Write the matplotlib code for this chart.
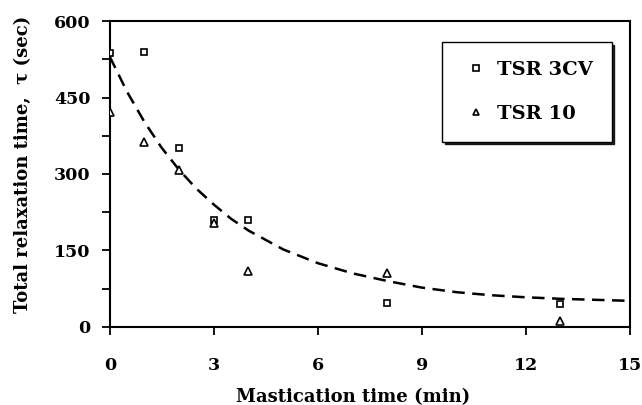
import matplotlib.pyplot as plt
from matplotlib.ticker import MultipleLocator

# data
time_min = [0, 1, 2, 3, 4, 8, 13]
tsr_3cv = [537, 540, 350, 210, 210, 47, 45]
tsr_10 = [422, 362, 308, 203, 110, 105, 12]

# dashed trend curve
fit_x = [0, 0.5, 1, 1.5, 2, 2.5, 3, 3.5, 4, 5, 6, 7, 8, 9, 10, 11, 12, 13, 14, 15]
fit_y = [530, 461, 402, 351, 308, 271, 240, 212, 189, 152, 125, 105, 90, 77, 68, 62, 58, 55, 53, 51]

plt.rcParams["font.family"] = ["DejaVu Serif"]
plt.rcParams["font.weight"] = "bold"

fig = plt.figure(figsize=(6.42, 4.05), dpi=100)
ax = fig.add_axes([0.171, 0.193, 0.81, 0.755])

ax.plot(fit_x, fit_y, color="black", lw=1.8, dashes=(5, 3), zorder=2)
ax.plot(time_min, tsr_3cv, ls="none", marker="s", ms=5, mfc="white",
        mec="black", mew=1.2, label="TSR 3CV", zorder=3)
ax.plot(time_min, tsr_10, ls="none", marker="^", ms=5.5, mfc="white",
        mec="black", mew=1.2, label="TSR 10", zorder=3)

ax.set_xlim(0, 15)
ax.set_ylim(0, 600)
ax.xaxis.set_major_locator(MultipleLocator(3))
ax.yaxis.set_major_locator(MultipleLocator(150))
ax.yaxis.set_minor_locator(MultipleLocator(75))

for s in ax.spines.values():
    s.set_linewidth(1.5)
ax.tick_params(axis="both", which="both", direction="out", width=1.3,
               top=False, right=False, labelsize=12.5)
ax.tick_params(axis="y", which="major", length=6, pad=8)
ax.tick_params(axis="y", which="minor", length=6)
ax.tick_params(axis="x", which="major", length=6, pad=16)

ax.set_xlabel("Mastication time (min)", fontsize=13, fontweight="bold")
ax.xaxis.set_label_coords(0.467, -0.2)
ax.set_ylabel("Total relaxation time,  τ (sec)", fontsize=13, fontweight="bold")
ax.yaxis.set_label_coords(-0.15, 0.53)

leg = ax.legend(loc="upper right", bbox_to_anchor=(0.965, 0.93),
                fontsize=14, frameon=True, fancybox=False,
                shadow={"color": "black", "alpha": 0.85},
                labelspacing=1.35, borderpad=0.95, handlelength=1.6,
                handletextpad=0.3, markerscale=0.75, borderaxespad=0)
leg.get_frame().set_edgecolor("black")
leg.get_frame().set_linewidth(1.0)

fig.savefig("out.png", dpi=100)
